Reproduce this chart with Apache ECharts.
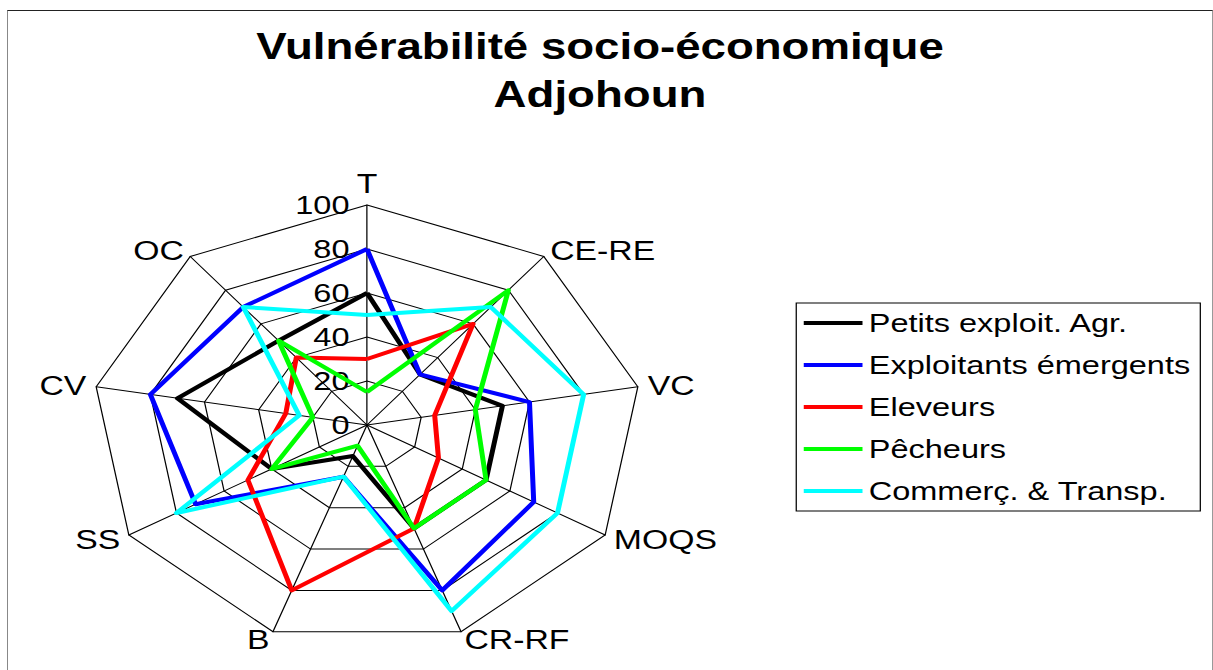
<!DOCTYPE html>
<html>
<head>
<meta charset="utf-8">
<script src="https://cdn.jsdelivr.net/npm/echarts@6/dist/echarts.min.js"></script>
<style>
  body { margin: 0; background: #fff; }
  .frame {
    position: absolute;
    left: 7px;
    top: 10px;
    width: 1204px;
    height: 670px;
    border-top: 1px solid #222;
    border-left: 1px solid #888;
    border-right: 1px solid #999;
  }
  /* the original picture is stretched horizontally by 1.25 */
  .chartMain {
    position: absolute;
    left: 0;
    top: 0;
    width: 970px;
    height: 670px;
    transform: scaleX(1.25);
    transform-origin: 0 0;
  }
</style>
</head>
<body>
<div class="frame"></div>
<div class="chartMain" id="chart"></div>
<script>
// axes, clockwise from the top
const categories = ["T", "CE-RE", "VC", "MOQS", "CR-RF", "B", "SS", "CV", "OC"];
const tickValues = [0, 20, 40, 60, 80, 100];

const seriesNames = [
  "Petits exploit. Agr.",
  "Exploitants émergents",
  "Eleveurs",
  "Pêcheurs",
  "Commerç. & Transp."
];
const petitsExploit = [60, 30, 50, 50, 50, 15, 40, 70, 50];
const exploitantsEmergents = [80, 30, 60, 70, 80, 25, 72, 80, 70];
const eleveurs = [30, 60, 25, 30, 50, 80, 50, 30, 40];
const pecheurs = [15, 80, 40, 50, 50, 10, 40, 20, 50];
const commerceTransp = [50, 70, 80, 80, 90, 25, 80, 25, 70];

const seriesColors = ["#000000", "#0000ff", "#ff0000", "#00ff00", "#00ffff"];
const FONT = "'Liberation Sans', Arial, sans-serif";

// echarts radar runs counter-clockwise, the excel one clockwise
function clockwise(arr) {
  return [arr[0]].concat(arr.slice(1).reverse());
}

function setChart() {
  const allValues = [petitsExploit, exploitantsEmergents, eleveurs, pecheurs, commerceTransp];
  const center = [293.6, 425];
  const radius = 220;

  return {
    animation: false,
    textStyle: { fontFamily: FONT },
    title: {
      text: "Vulnérabilité socio-économique\nAdjohoun",
      left: 480,
      textAlign: "center",
      top: 23,
      padding: 0,
      textStyle: {
        fontFamily: FONT,
        fontSize: 36.5,
        fontWeight: "bold",
        color: "#000",
        lineHeight: 48
      }
    },
    legend: {
      orient: "vertical",
      left: 637,
      top: 303,
      padding: [5, 8, 5, 6],
      itemGap: 12,
      itemWidth: 47,
      itemHeight: 4,
      icon: "rect",
      borderColor: "#000",
      borderWidth: 1,
      data: seriesNames,
      textStyle: {
        fontFamily: FONT,
        fontSize: 26,
        color: "#000",
        lineHeight: 30,
        padding: [0, 0, 0, 0]
      }
    },
    radar: {
      center: center,
      radius: radius,
      shape: "polygon",
      splitNumber: 5,
      nameGap: 8,
      indicator: clockwise(categories).map(name => ({ name: name, min: 0, max: 100 })),
      axisName: {
        color: "#000",
        fontFamily: FONT,
        fontSize: 27
      },
      axisLine: { lineStyle: { color: "#000", width: 1 } },
      splitLine: { lineStyle: { color: "#000", width: 1 } },
      splitArea: { show: false }
    },
    // polar only carries the 0..100 tick labels on the T axis
    polar: { center: center, radius: radius },
    angleAxis: { show: false, startAngle: 90 },
    radiusAxis: {
      min: tickValues[0],
      max: tickValues[tickValues.length - 1],
      interval: 20,
      axisLine: { show: false },
      axisTick: { show: false },
      splitLine: { show: false },
      axisLabel: {
        margin: 14,
        fontFamily: FONT,
        fontSize: 26,
        color: "#000"
      }
    },
    series: seriesNames.map((name, i) => ({
      name: name,
      type: "radar",
      symbol: "none",
      z: 2 + i,
      itemStyle: { color: seriesColors[i] },
      lineStyle: { color: seriesColors[i], width: 4 },
      emphasis: { disabled: true },
      data: [{ value: clockwise(allValues[i]), name: name }]
    }))
  };
}

function initChart() {
  let myChart = echarts.init(document.getElementById("chart"), null, { renderer: "svg" });
  myChart.setOption(setChart());
}

initChart();
</script>
</body>
</html>
